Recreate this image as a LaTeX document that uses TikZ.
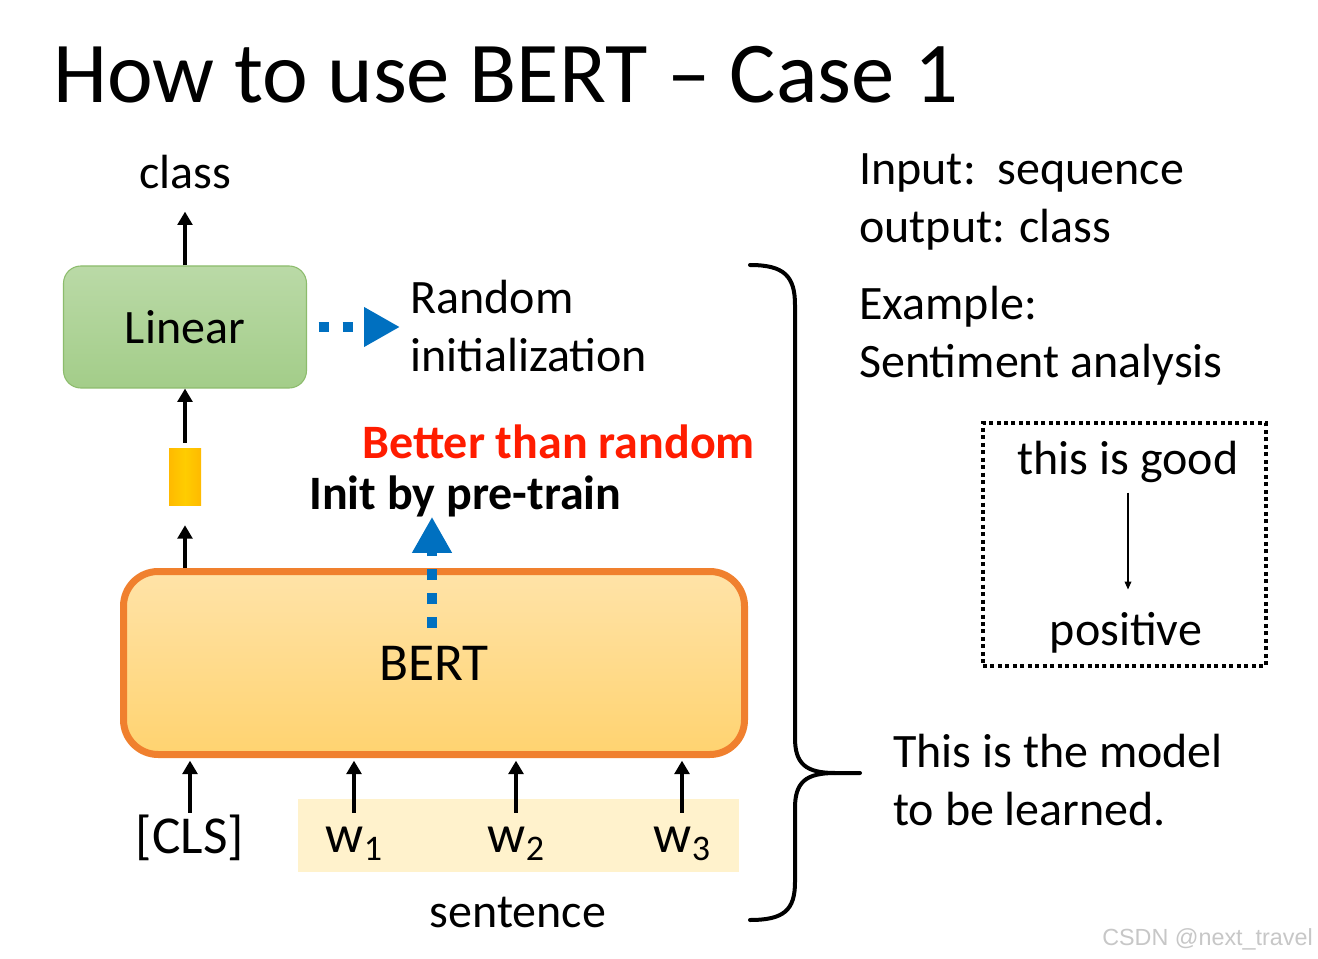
\documentclass[tikz,border=0pt]{standalone}
\usepackage{fontspec}
\setmainfont{Carlito}
\newfontfamily\wmfont{Liberation Sans}
\usetikzlibrary{arrows.meta,positioning,calc}
\definecolor{lingreen}{RGB}{163,205,137}
\definecolor{linedge}{RGB}{140,188,108}
\definecolor{bertorange}{RGB}{240,128,46}
\definecolor{berttop}{RGB}{255,227,168}
\definecolor{bertbot}{RGB}{255,211,112}
\definecolor{vecyellow}{RGB}{255,192,0}
\definecolor{tokfill}{RGB}{255,242,204}
\definecolor{arrblue}{RGB}{0,112,192}
\definecolor{betred}{RGB}{255,28,0}
\newcommand\bodysize{\fontsize{36}{43.5}\selectfont}
\newcommand\toksize{\fontsize{40}{44}\selectfont}
\newcommand\wtok[1]{w\raisebox{-6pt}{\fontsize{27}{27}\selectfont #1}}

\begin{document}
\begin{tikzpicture}[
    x=0.75pt, y=-0.75pt,
    every node/.style={inner sep=0pt, font=\bodysize},
    linbox/.style={rectangle, rounded corners=13pt, draw=linedge,
        line width=0.8pt, top color=lingreen!75!white,
        bottom color=lingreen, minimum width=182.25pt,
        minimum height=91.5pt},
    vecbox/.style={rectangle, left color=vecyellow!90!orange,
        right color=vecyellow!90!orange, middle color=vecyellow!80!yellow,
        minimum width=24pt, minimum height=42.75pt},
    bertbox/.style={rectangle, rounded corners=26pt, draw=bertorange,
        line width=5.25pt, top color=berttop, bottom color=bertbot,
        minimum width=465.75pt, minimum height=137.25pt},
    sentbox/.style={rectangle, fill=tokfill, minimum width=330.75pt,
        minimum height=54.75pt},
    dotbox/.style={rectangle, draw, line width=3pt,
        dash pattern=on 3pt off 2.6pt, minimum width=212.25pt,
        minimum height=182.25pt},
    uparr/.style={line width=3pt, -{Triangle[length=10pt,width=11pt]}},
    initarr/.style={draw=arrblue, line width=7.5pt,
        dash pattern=on 8pt off 10pt, -{Triangle[length=27pt,width=28pt]}},
    thinarr/.style={line width=1.1pt, -{Triangle[length=6pt,width=5pt]}},
    brace/.style={line width=3pt, line cap=round, line join=round}
    ]
\fill[white] (0,0) rectangle (1318,959);
\useasboundingbox (0,0) rectangle (1318,959);

% title
\node[anchor=base west, font=\fontsize{65}{70}\selectfont] (title)
    at (53,103) {How to use BERT \textendash{} Case 1};

% model column
\node[linbox] (linear) at (185,327) {Linear};
\node[anchor=base] (clslbl) at (185,189) {class};
\node[vecbox] (vec) at (185,476.5) {};
\node[bertbox, font=\toksize] (bert) at (434,663) {BERT};

% input tokens
\node[sentbox] (sentbg) at (518.5,835.5) {};
\node[anchor=base, font=\toksize] (cls) at (190,853) {[CLS]};
\node[anchor=base, font=\toksize] (w1) at (354,852) {\wtok{1}};
\node[anchor=base, font=\toksize] (w2) at (516,852) {\wtok{2}};
\node[anchor=base, font=\toksize] (w3) at (682,852) {\wtok{3}};
\node[anchor=base] (sentlbl) at (518,927) {sentence};

% notes on the parameters
\node[anchor=west, align=left] (randinit) at (410,326)
    {Random\\initialization};
\node[anchor=base west, font=\bodysize\bfseries, text=betred] (better)
    at (362,458) {Better than random};
\node[anchor=base west, font=\bodysize\bfseries] (initlbl)
    at (309,509) {Init by pre-train};
\coordinate (initsrc) at (432,628);

% arrows
\draw[uparr] (linear.north) -- ([yshift=-16.5pt]clslbl.south);
\draw[uparr] ([yshift=3.75pt]vec.north) -- (linear.south);
\draw[uparr] (bert.north -| vec) -- ([yshift=-15pt]vec.south);
\foreach \t in {cls,w1,w2,w3}
    \draw[uparr, shorten >=2pt] ($(\t.north |- sentbg.north)+(0,14)$)
        -- (\t.north |- bert.south);
\draw[initarr, shorten >=7.5pt] ([xshift=8.6pt]linear.east)
    -- (linear.east -| randinit.west);
\draw[initarr] (initsrc) -- (initsrc |- initlbl.south);

% brace
\draw[brace] (750,265) .. controls (784,265) and (795,276) .. (795,305)
    -- (795,738) .. controls (795,764) and (806,773) .. (835,773) -- (860,773);
\draw[brace] (835,773) .. controls (806,773) and (795,782) .. (795,808)
    -- (795,882) .. controls (795,910) and (784,920) .. (750,920);

% task description (base = last line)
\node[anchor=base west, align=left] (io) at (859,243)
    {Input:\ \ sequence\\output: class};
\node[anchor=base west, align=left] (example) at (859,378)
    {Example:\\Sentiment analysis};
\node[dotbox] (demo) at (1124.5,544.5) {};
\node[anchor=base] (good) at (1128,474) {this is good};
\node[anchor=base] (pos) at (1126,645) {positive};
\draw[thinarr, shorten <=7.5pt, shorten >=16.5pt] (good.south)
    -- (good.south |- pos.north);
\node[anchor=base west, align=left] (model) at (893,825)
    {This is the model\\to be learned.};

\node[anchor=base east, font=\wmfont\fontsize{17.5}{20}\selectfont,
    text=black!22] (wm) at (1313,945) {CSDN @next\_travel};
\end{tikzpicture}
\end{document}
